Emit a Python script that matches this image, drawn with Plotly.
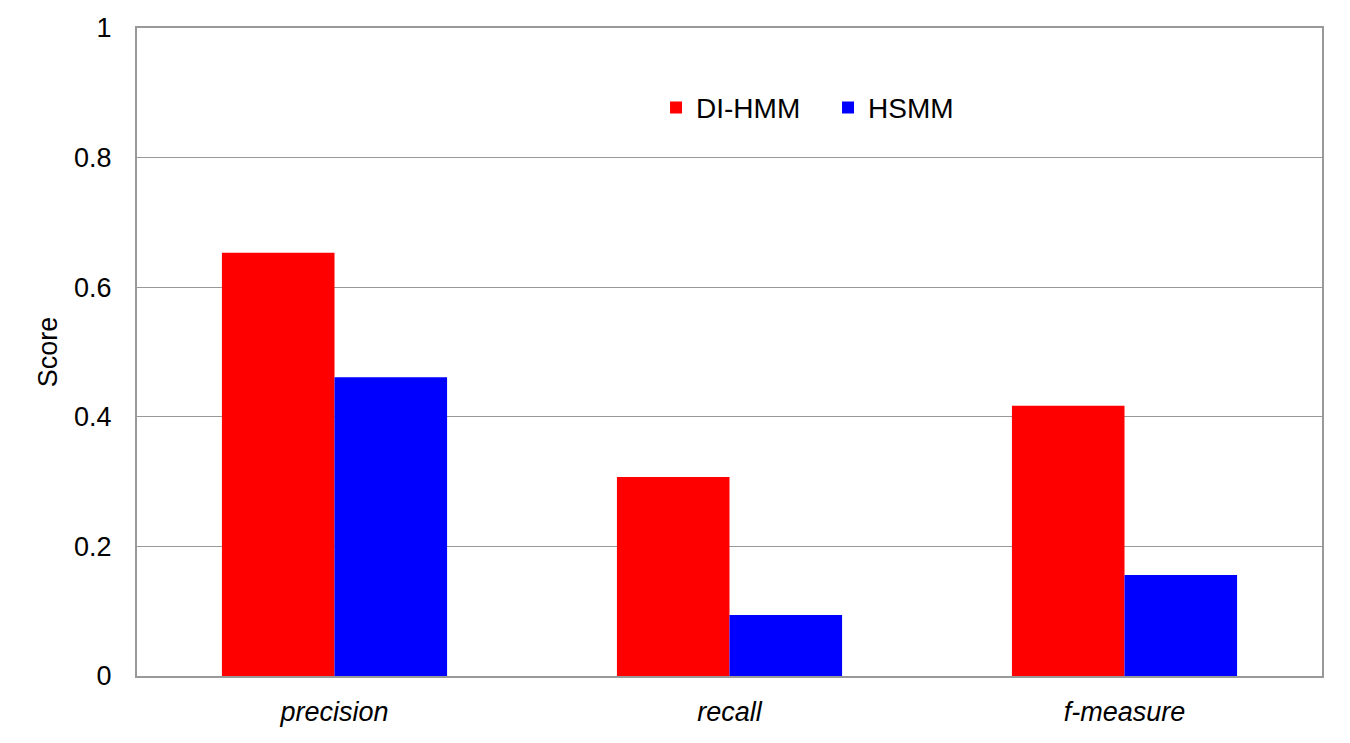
import plotly.graph_objects as go

categories = ["precision", "recall", "f-measure"]
di_hmm = [0.653, 0.307, 0.417]
hsmm = [0.461, 0.094, 0.156]
tick_vals = [0, 0.2, 0.4, 0.6, 0.8, 1]
tick_text = ["0", "0.2", "0.4", "0.6", "0.8", "1"]

font_family = "Liberation Sans, Arial, sans-serif"

fig = go.Figure()
fig.add_trace(go.Bar(x=categories, y=di_hmm, name="DI-HMM", marker=dict(color="#ff0000", line=dict(width=0))))
fig.add_trace(go.Bar(x=categories, y=hsmm, name="HSMM", marker=dict(color="#0000ff", line=dict(width=0))))

fig.update_layout(
    width=1342, height=735,
    margin=dict(l=129, r=28, t=20, b=67, autoexpand=False),
    paper_bgcolor="white", plot_bgcolor="white",
    barmode="group", bargap=0.43, bargroupgap=0,
    font=dict(family=font_family, color="black"),
    legend=dict(orientation="h", x=0.438, xanchor="left", y=0.877, yanchor="middle",
                font=dict(size=28, family=font_family), entrywidth=127, entrywidthmode="pixels",
                bgcolor="rgba(0,0,0,0)", traceorder="normal"),
    showlegend=True,
)
fig.update_xaxes(
    showline=True, linecolor="#999999", linewidth=2, mirror=True,
    ticks="", tickfont=dict(size=27, family=font_family),
    ticktext=["<i>precision</i>", "<i>recall</i>", "<i>f-measure</i>"],
    tickvals=categories, showgrid=False, ticklabelstandoff=11, automargin=False,
)
fig.update_yaxes(
    range=[0, 1], tickvals=tick_vals, ticktext=tick_text,
    showline=True, linecolor="#999999", linewidth=2, mirror=True,
    showgrid=True, gridcolor="#999999", gridwidth=1,
    ticks="", ticklen=0, tickfont=dict(size=27, family=font_family),
    ticklabelstandoff=18, automargin=False,
    title=dict(text="Score", font=dict(size=27, family=font_family), standoff=9),
    zeroline=False,
)
fig.write_html("out.html")
